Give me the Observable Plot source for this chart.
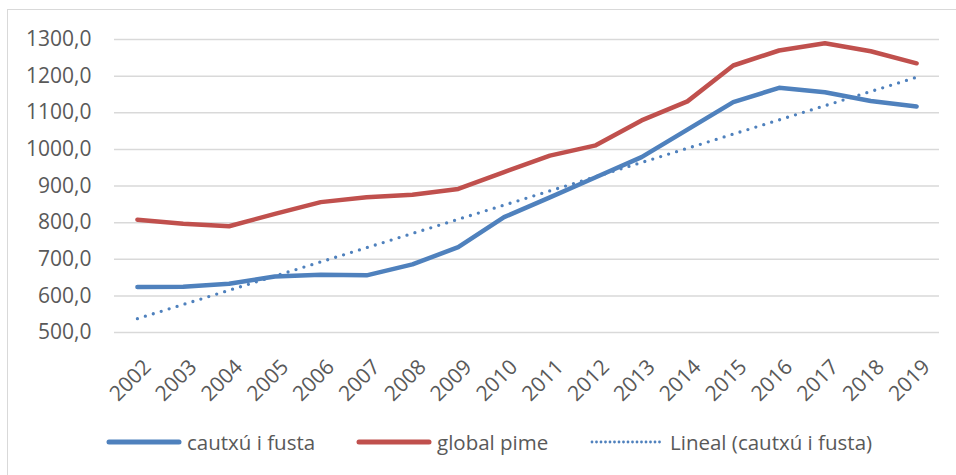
<!DOCTYPE html>
<html>
<head>
<meta charset="utf-8">
<script src="https://cdn.jsdelivr.net/npm/d3@7"></script>
<script src="https://cdn.jsdelivr.net/npm/@observablehq/plot@0.6"></script>
<style>
  html, body { margin: 0; padding: 0; background: #fff; width: 956px; height: 475px; overflow: hidden; }
  #frame { position: absolute; left: 7px; top: 9px; width: 1000px; height: 500px; border: 1.5px solid #d9d9d9; box-sizing: border-box; }
  #chart { position: absolute; left: 0; top: 0; }
  .leg { position: absolute; top: 428px; height: 28px; display: flex; align-items: center; font-family: "Open Sans", sans-serif; font-size: 20.5px; color: #595959; white-space: nowrap; }
  .leg svg { margin-right: 5px; }
</style>
</head>
<body>
<div id="frame"></div>
<div id="chart"></div>
<div class="leg" style="left:106px"><svg width="76" height="12"><line x1="3" y1="6" x2="73" y2="6" stroke="#4f81bd" stroke-width="5" stroke-linecap="round"/></svg><span>cautxú i fusta</span></div>
<div class="leg" style="left:356px"><svg width="76" height="12"><line x1="3" y1="6" x2="73" y2="6" stroke="#c0504d" stroke-width="5" stroke-linecap="round"/></svg><span>global pime</span></div>
<div class="leg" style="left:589px"><svg width="76" height="12"><line x1="3" y1="6" x2="71" y2="6" stroke="#4f81bd" stroke-width="2.8" stroke-dasharray="0,4.5" stroke-linecap="round"/></svg><span>Lineal (cautxú i fusta)</span></div>
<script>
const years = [2002, 2003, 2004, 2005, 2006, 2007, 2008, 2009, 2010, 2011, 2012, 2013, 2014, 2015, 2016, 2017, 2018, 2019];
const cautxuFusta = [624, 625, 633, 653, 658, 656, 686, 733, 815, 869, 924, 979, 1054, 1129, 1168, 1156, 1132, 1117];
const globalPime = [808, 797, 790, 824, 856, 869, 876, 892, 938, 983, 1011, 1079, 1131, 1229, 1270, 1290, 1268, 1235];
const yTicks = [500, 600, 700, 800, 900, 1000, 1100, 1200, 1300];

const blue = "#4f81bd";
const red = "#c0504d";

const dataBlue = years.map((y, i) => ({year: y, value: cautxuFusta[i]}));
const dataRed = years.map((y, i) => ({year: y, value: globalPime[i]}));

const chart = Plot.plot({
  width: 956,
  height: 425,
  marginLeft: 114,
  marginRight: 17,
  marginTop: 39,
  marginBottom: 93,
  style: {fontFamily: "'Open Sans', sans-serif", fontSize: "21px", color: "#595959", background: "transparent"},
  x: {type: "linear", domain: [2001.5, 2019.5]},
  y: {domain: [500, 1300]},
  marks: [
    Plot.gridY(yTicks, {stroke: "#d9d9d9", strokeOpacity: 1, strokeWidth: 1.5}),
    Plot.axisY(yTicks, {tickSize: 0, tickPadding: 23, tickFormat: d => d.toFixed(1).replace(".", ","), fill: "#595959", fontSize: 21, label: null}),
    Plot.axisX(years, {tickSize: 0, tickRotate: -45, tickPadding: 31, dx: 10, tickFormat: d => String(d), fill: "#595959", fontSize: 21, label: null}),
    Plot.line(dataRed, {x: "year", y: "value", stroke: red, strokeWidth: 4.5, strokeLinecap: "round", strokeLinejoin: "round"}),
    Plot.line(dataBlue, {x: "year", y: "value", stroke: blue, strokeWidth: 4.5, strokeLinecap: "round", strokeLinejoin: "round"}),
    Plot.linearRegressionY(dataBlue, {x: "year", y: "value", ci: 0, stroke: blue, strokeWidth: 3.3, strokeDasharray: "0,8.3", strokeLinecap: "round"})
  ]
});
document.getElementById("chart").appendChild(chart);
</script>
</body>
</html>
